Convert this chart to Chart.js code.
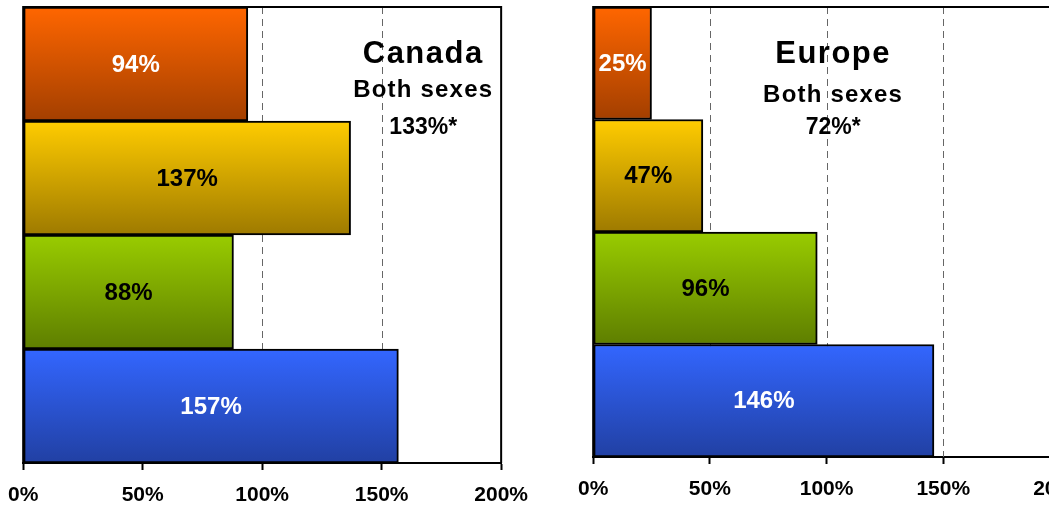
<!DOCTYPE html>
<html lang="en">
<head>
<title>Canada / Europe - Both sexes</title>
<meta charset="utf-8">
<script src="https://cdn.jsdelivr.net/npm/chart.js@4/dist/chart.umd.min.js"></script>
<style>
  html, body { margin: 0; padding: 0; background: #fff; overflow: hidden; width: 1049px; height: 505px; position: relative; }
  .panel { position: absolute; top: 0; }
  #leftPanel { left: -7px; }
  #rightPanel { left: 563px; }
</style>
</head>
<body>
<div class="panel" id="leftPanel"><canvas id="canadaChart" width="550" height="521"></canvas></div>
<div class="panel" id="rightPanel"><canvas id="europeChart" width="547" height="521"></canvas></div>

<script>
// data
const categories = ['Group 1', 'Group 2', 'Group 3', 'Group 4'];
const canadaValues = [94, 137, 88, 157];
const europeValues = [25, 47, 96, 146];
const xTicks = [0, 50, 100, 150, 200];
const canadaTitle = ['Canada', 'Both sexes', '133%*'];
const europeTitle = ['Europe', 'Both sexes', '72%*'];

const barTopColors = ['#FF6600', '#FFCC00', '#99CC00', '#3366FF'];
const barBottomColors = ['#A33F00', '#9E7A00', '#5E7E00', '#2140A3'];
const labelColors = ['#FFFFFF', '#000000', '#000000', '#FFFFFF'];

const FONT = "'Liberation Sans', Arial, Helvetica, sans-serif";

// vertical gradient on each bar, light on top, dark at the bottom
function barFill(context) {
    const chart = context.chart;
    const area = chart.chartArea;
    const i = context.dataIndex;
    if (!area || context.type !== 'data') return barTopColors[i || 0];
    const mid = chart.scales.y.getPixelForValue(i);
    const half = area.height / categories.length / 2;
    const g = chart.ctx.createLinearGradient(0, mid - half, 0, mid + half);
    g.addColorStop(0, barTopColors[i]);
    g.addColorStop(1, barBottomColors[i]);
    return g;
}

const panelPlugin = {
    id: 'panel',
    beforeDatasetsDraw(chart, args, opts) {
        const ctx = chart.ctx;
        const a = chart.chartArea;
        const x = chart.scales.x;
        ctx.save();
        ctx.strokeStyle = '#666666';
        ctx.lineWidth = 1;
        ctx.setLineDash([7, 5]);
        xTicks.forEach(v => {
            if (v <= x.min || v >= x.max) return;
            const px = Math.round(x.getPixelForValue(v)) + 0.5;
            ctx.beginPath();
            ctx.moveTo(px, a.top);
            ctx.lineTo(px, a.bottom);
            ctx.stroke();
        });
        ctx.restore();
    },
    afterDatasetsDraw(chart, args, opts) {
        const ctx = chart.ctx;
        const a = chart.chartArea;
        ctx.save();

        // frame (left, top, right)
        ctx.strokeStyle = '#000';
        ctx.lineWidth = 2;
        ctx.beginPath();
        ctx.moveTo(a.left, a.bottom);
        ctx.lineTo(a.left, a.top);
        ctx.lineTo(a.right, a.top);
        ctx.lineTo(a.right, a.bottom);
        ctx.stroke();

        // value labels in the middle of each bar
        const meta = chart.getDatasetMeta(0);
        const values = chart.data.datasets[0].data;
        ctx.font = 'bold 24px ' + FONT;
        ctx.textAlign = 'center';
        ctx.textBaseline = 'middle';
        meta.data.forEach((bar, i) => {
            ctx.fillStyle = labelColors[i];
            ctx.fillText(values[i] + '%', (bar.base + bar.x) / 2, bar.y + 1);
        });

        // region title block
        const tx = a.left + opts.titleX * (a.right - a.left);
        ctx.fillStyle = '#000';
        opts.title.forEach((line, i) => {
            ctx.font = 'bold ' + opts.titleSizes[i] + 'px ' + FONT;
            ctx.letterSpacing = opts.titleSpacing[i];
            ctx.fillText(line, tx, opts.titleY[i]);
        });
        ctx.restore();
    }
};

function makeChart(id, values, title, titleX, titleY, padRight, padBottom) {
    return new Chart(document.getElementById(id), {
        type: 'bar',
        data: {
            labels: categories,
            datasets: [{
                data: values,
                backgroundColor: barFill,
                borderColor: '#000',
                borderWidth: 2,
                borderSkipped: false,
                categoryPercentage: 1,
                barPercentage: 1
            }]
        },
        options: {
            indexAxis: 'y',
            responsive: false,
            animation: false,
            layout: { padding: { left: 19, right: padRight, top: 7, bottom: padBottom } },
            plugins: {
                legend: { display: false },
                tooltip: { enabled: false },
                panel: {
                    title: title,
                    titleX: titleX,
                    titleY: titleY,
                    titleSizes: [31, 24, 23],
                    titleSpacing: ['1.5px', '1.2px', '0px']
                }
            },
            scales: {
                x: {
                    min: 0,
                    max: 200,
                    afterBuildTicks: axis => { axis.ticks = xTicks.map(v => ({ value: v })); },
                    ticks: {
                        callback: v => v + '%',
                        color: '#000',
                        font: { family: FONT, size: 21, weight: 'bold', lineHeight: 1 },
                        padding: 15,
                        maxRotation: 0,
                        autoSkip: false
                    },
                    grid: {
                        display: true,
                        drawOnChartArea: false,
                        drawTicks: true,
                        tickLength: 7,
                        tickColor: '#000',
                        tickWidth: 2,
                        color: '#000'
                    },
                    border: { display: true, color: '#000', width: 2 }
                },
                y: { display: false }
            }
        },
        plugins: [panelPlugin]
    });
}

makeChart('canadaChart', canadaValues, canadaTitle, 0.837, [54, 90, 128], 39, 0);
makeChart('europeChart', europeValues, europeTitle, 0.514, [54, 95, 128], 50, 6);
</script>
</body>
</html>
